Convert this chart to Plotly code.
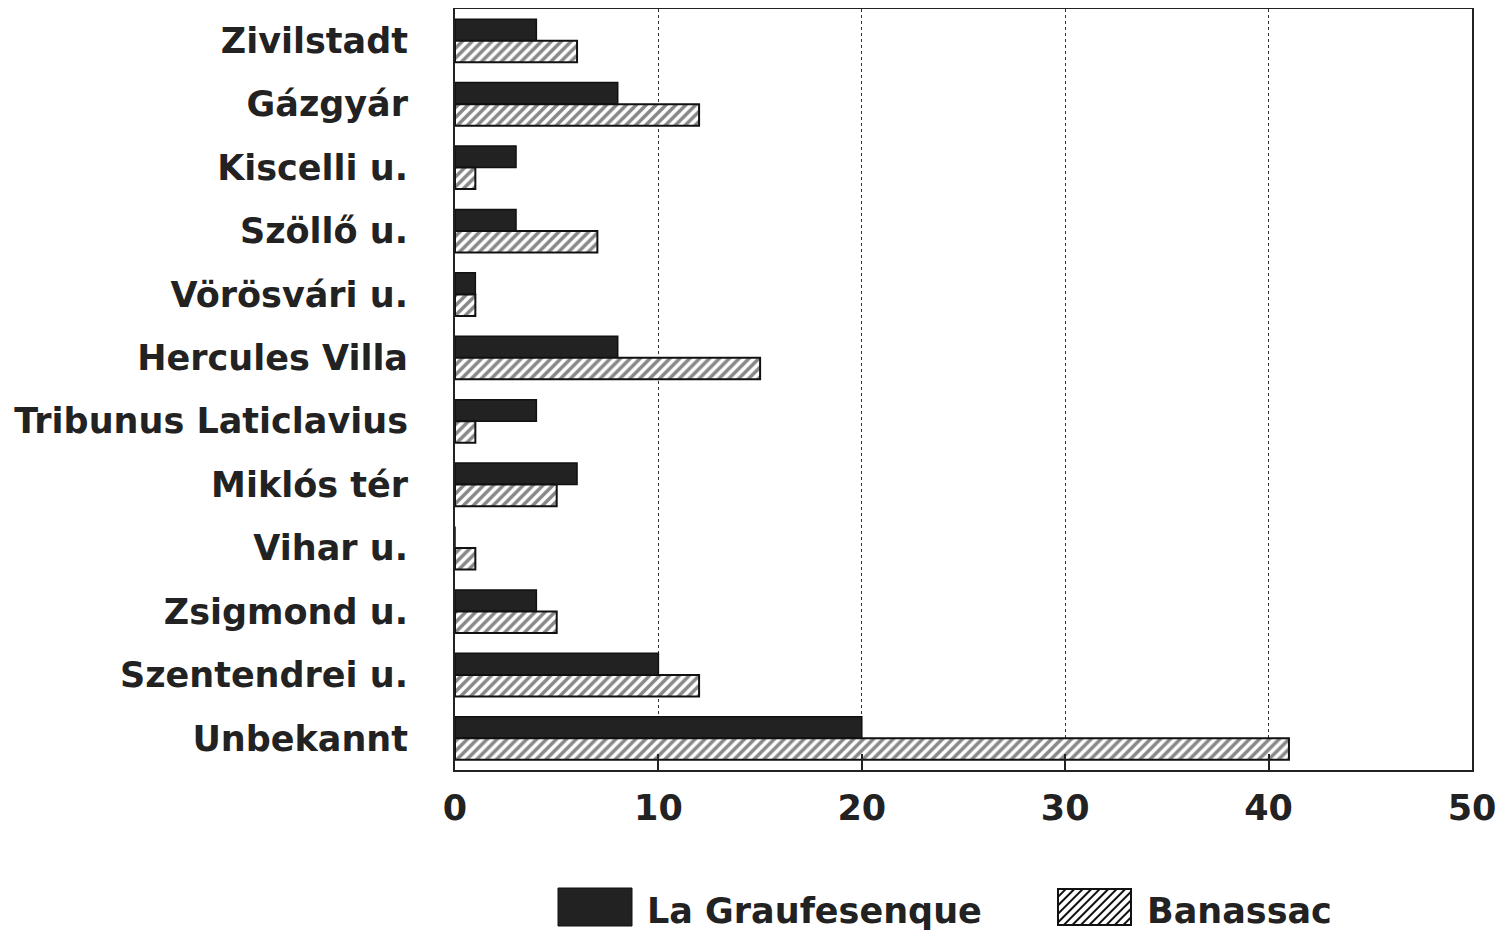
import base64
import plotly.graph_objects as go

categories = ["Zivilstadt", "Gázgyár", "Kiscelli u.", "Szöllő u.", "Vörösvári u.",
              "Hercules Villa", "Tribunus Laticlavius", "Miklós tér", "Vihar u.",
              "Zsigmond u.", "Szentendrei u.", "Unbekannt"]
la_graufesenque = [4, 8, 3, 3, 1, 8, 4, 6, 0, 4, 10, 20]
banassac = [6, 12, 1, 7, 1, 15, 1, 5, 1, 5, 12, 41]
series_names = ["La Graufesenque", "Banassac"]
x_ticks = [0, 10, 20, 30, 40, 50]

FONT = "DejaVu Sans"
INK = "#222222"
OFF = 8  # page body margin offset
W, H = 1504, 937
# target screen positions of the plot box: left 455, right 1472, top 8, bottom 770
ML, MT = 455 - OFF, 8 - OFF + 1
MR = W - (1472 - OFF)
MB = H - (770 - OFF)
PW, PH = W - ML - MR, H - MT - MB


def px(x):
    return (x - OFF - ML) / PW


def py(y):
    return (H - MB - (y - OFF)) / PH


fig = go.Figure()
fig.add_trace(go.Bar(
    y=categories, x=la_graufesenque, orientation="h", name=series_names[0],
    marker=dict(color=INK, line=dict(color="#111111", width=1.5)),
    showlegend=False,
))
fig.add_trace(go.Bar(
    y=categories, x=banassac, orientation="h", name=series_names[1],
    marker=dict(color="white", line=dict(color="#111111", width=2),
                pattern=dict(shape="/", fgcolor="#111111", bgcolor="white",
                             size=7, solidity=0.5)),
    showlegend=False,
))

# custom legend (large swatches as in the original)
hatch_svg = (
    '<svg xmlns="http://www.w3.org/2000/svg" width="75" height="38">'
    '<defs><pattern id="h" width="6" height="6" patternUnits="userSpaceOnUse" '
    'patternTransform="rotate(45)"><rect width="6" height="6" fill="white"/>'
    '<line x1="0" y1="0" x2="0" y2="6" stroke="#111" stroke-width="4"/></pattern></defs>'
    '<rect x="1" y="1" width="73" height="36" fill="url(#h)" stroke="#111" stroke-width="2"/>'
    '</svg>'
)
hatch_uri = "data:image/svg+xml;base64," + base64.b64encode(hatch_svg.encode()).decode()

shapes = [dict(type="rect", xref="paper", yref="paper",
               x0=px(558), x1=px(632), y0=py(926), y1=py(888),
               fillcolor=INK, line=dict(color="#111111", width=1))]
images = [dict(source=hatch_uri, xref="paper", yref="paper",
               x=px(1057), y=py(888), sizex=px(1132) - px(1057), sizey=py(888) - py(926),
               xanchor="left", yanchor="top", sizing="stretch", layer="above")]
annotations = [
    dict(text=series_names[0], xref="paper", yref="paper", x=px(645), y=py(911),
         xanchor="left", yanchor="middle", showarrow=False,
         font=dict(family=FONT, size=35, color=INK, weight="bold")),
    dict(text=series_names[1], xref="paper", yref="paper", x=px(1145), y=py(911),
         xanchor="left", yanchor="middle", showarrow=False,
         font=dict(family=FONT, size=35, color=INK, weight="bold")),
]

fig.update_layout(
    width=W, height=H,
    margin=dict(l=ML, r=MR, t=MT, b=MB, autoexpand=False),
    paper_bgcolor="white", plot_bgcolor="white",
    barmode="group", bargap=0.32, bargroupgap=0.0,
    font=dict(family=FONT, color=INK),
    showlegend=False,
    shapes=shapes, images=images, annotations=annotations,
    xaxis=dict(range=[0, 50], tickvals=x_ticks, ticktext=[str(v) for v in x_ticks],
               showgrid=True, gridcolor="#333333", griddash="dot", gridwidth=1,
               ticks="inside", ticklen=16, tickcolor=INK, tickwidth=1.5,
               showline=True, linecolor=INK, linewidth=2, mirror=True,
               tickfont=dict(family=FONT, size=35, color=INK, weight="bold"),
               zeroline=False, automargin=False, ticklabelstandoff=6),
    yaxis=dict(autorange="reversed", showline=True, linecolor=INK, linewidth=2,
               mirror=True, ticks="", showgrid=False, automargin=False,
               tickfont=dict(family=FONT, size=35, color=INK, weight="bold"),
               ticklabelstandoff=38),
)

fig.write_html("out.html")
